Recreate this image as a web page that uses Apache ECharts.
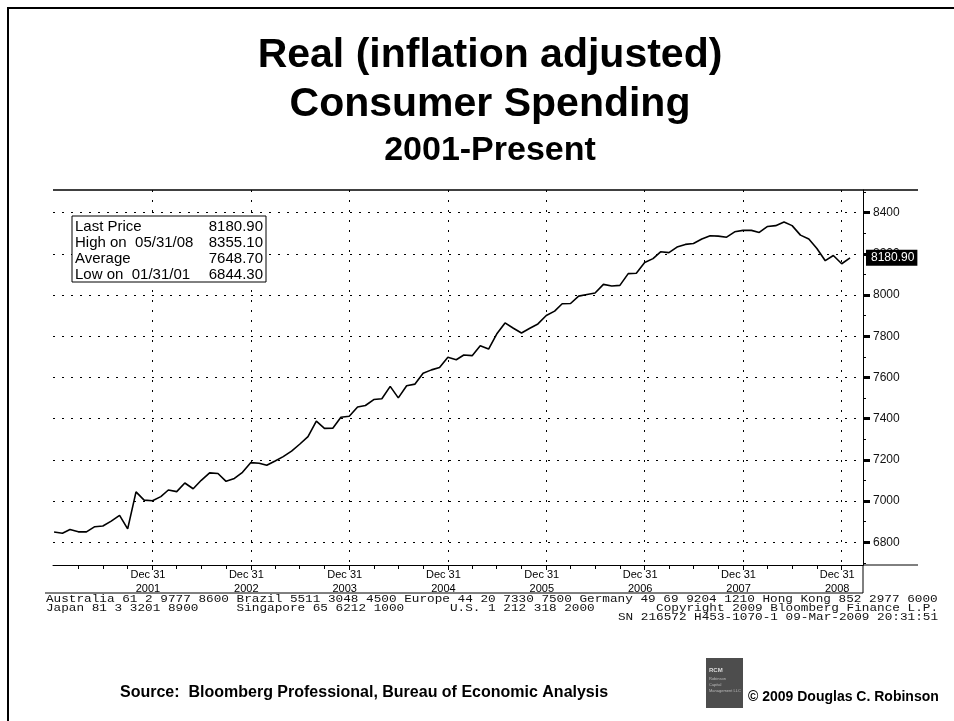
<!DOCTYPE html>
<html lang="en">
<head>
<meta charset="UTF-8" />
<title>Real (inflation adjusted) Consumer Spending</title>
<script src="https://cdn.jsdelivr.net/npm/echarts@6/dist/echarts.min.js"></script>
<style>
html, body { margin: 0; padding: 0; background: #fff; }
#main { width: 954px; height: 721px; }
</style>
</head>
<body>
<div id="main"></div>
<script type="text/javascript">
// real consumer spending, monthly (month end), Dec 2000 .. Jan 2009
var firstMonth = [2000, 12];
var spending = [
  6850, 6844.3, 6862, 6851, 6851, 6876, 6879, 6903, 6931, 6865, 7045, 7005,
  7002, 7022, 7054, 7046, 7088, 7060, 7101, 7137, 7134, 7096, 7110, 7140,
  7187, 7184, 7174, 7195, 7216, 7243, 7276, 7313, 7388, 7353, 7354, 7407,
  7412, 7457, 7464, 7493, 7497, 7557, 7501, 7560, 7568, 7621, 7637, 7649,
  7698, 7686, 7709, 7706, 7754, 7738, 7811, 7865, 7839, 7816, 7839, 7860,
  7901, 7922, 7958, 7959, 7995, 8003, 8010, 8052, 8044, 8047, 8104, 8106,
  8158, 8177, 8210, 8206, 8233, 8246, 8250, 8272, 8288, 8286, 8281, 8307,
  8314, 8314, 8304, 8333, 8337, 8355.1, 8337, 8291, 8272, 8226, 8167, 8192,
  8152, 8180.9
];

var yLabels = [6800, 7000, 7200, 7400, 7600, 7800, 8000, 8200, 8400];
var yMinor = [6700, 6900, 7100, 7300, 7500, 7700, 7900, 8100, 8300, 8500];
var yearEnds = ['2001-12-31', '2002-12-31', '2003-12-31', '2004-12-31',
                '2005-12-31', '2006-12-31', '2007-12-31', '2008-12-31'];
var quarterEnds = ['03-31', '06-30', '09-30'];

var statNames = ['Last Price', 'High on  05/31/08', 'Average', 'Low on  01/31/01'];
var statValues = ['8180.90', '8355.10', '7648.70', '6844.30'];

var titleLines = ['Real (inflation adjusted)', 'Consumer Spending', '2001-Present'];
var bbgLines = [
  'Australia 61 2 9777 8600 Brazil 5511 3048 4500 Europe 44 20 7330 7500 Germany 49 69 9204 1210 Hong Kong 852 2977 6000',
  'Japan 81 3 3201 8900     Singapore 65 6212 1000      U.S. 1 212 318 2000',
  'Copyright 2009 Bloomberg Finance L.P.',
  'SN 216572 H453-1070-1 09-Mar-2009 20:31:51'
];
var sourceText = 'Source:  Bloomberg Professional, Bureau of Economic Analysis';
var copyText = '\u00a9 2009 Douglas C. Robinson';

var xStart = '2000-12-27';
var xEnd = '2009-03-20';
var yMin = 6690, yMax = 8510;

var FONT = "'Liberation Sans', Arial, Helvetica, sans-serif";
var MONO = "'Liberation Mono', 'DejaVu Sans Mono', monospace";

// dates as UTC timestamps on a plain value axis
function ts(s) {
  var p = s.split('-');
  return Date.UTC(+p[0], +p[1] - 1, +p[2]);
}
function monthEnd(y, m) {
  return Date.UTC(y, m, 0);
}

var seriesData = [];
for (var i = 0; i < spending.length; i++) {
  var k = firstMonth[1] - 1 + i;
  seriesData.push([monthEnd(firstMonth[0] + Math.floor(k / 12), k % 12 + 1), spending[i]]);
}

var majorX = yearEnds.map(ts);
var minorX = [];
for (var yr = 2001; yr <= 2008; yr++) {
  for (var q = 0; q < quarterEnds.length; q++) minorX.push(ts(yr + '-' + quarterEnds[q]));
}

var lastPrice = spending[spending.length - 1];
var dotted = { color: '#000', width: 1, type: [2, 7] };

function txt(x, y, s, font, align, extra, color) {
  var el = {
    type: 'text', x: x, y: y, silent: true,
    style: { text: s, font: font, fill: color || '#000', align: align, textAlign: align,
             verticalAlign: 'middle', textVerticalAlign: 'middle' }
  };
  if (extra) for (var p in extra) el[p] = extra[p];
  return el;
}
function line(x1, y1, x2, y2, w) {
  return { type: 'line', silent: true, shape: { x1: x1, y1: y1, x2: x2, y2: y2 },
           style: { stroke: '#000', lineWidth: w || 1 } };
}

var graphics = [
  { type: 'polyline', silent: true, shape: { points: [[8, 740], [8, 8], [970, 8]] },
    style: { stroke: '#000', lineWidth: 2, fill: null } },
  txt(490, 56, titleLines[0], 'bold 41px ' + FONT, 'center'),
  txt(490, 105, titleLines[1], 'bold 41px ' + FONT, 'center'),
  txt(490, 151, titleLines[2], 'bold 34px ' + FONT, 'center'),
  // chart frame pieces outside the grid
  line(53, 190, 918, 190, 1.5),
  line(863, 565, 918, 565, 1),
  line(863, 565, 863, 593, 1),
  line(45, 593, 863, 593, 1),
  // stats box
  { type: 'rect', silent: true, shape: { x: 72, y: 216, width: 194, height: 66 },
    style: { fill: '#fff', stroke: '#000', lineWidth: 1 }, z: 10 }
];
for (var r = 0; r < statNames.length; r++) {
  graphics.push(txt(75, 226.5 + r * 16, statNames[r], '15px ' + FONT, 'left', { z: 11 }));
  graphics.push(txt(263, 226.5 + r * 16, statValues[r], '15px ' + FONT, 'right', { z: 11 }));
}
graphics.push(txt(46, 599, bbgLines[0], '10px ' + MONO, 'left', { scaleX: 1.27 }, '#111'));
graphics.push(txt(46, 608, bbgLines[1], '10px ' + MONO, 'left', { scaleX: 1.27 }, '#111'));
graphics.push(txt(938, 608, bbgLines[2], '10px ' + MONO, 'right', { scaleX: 1.27 }, '#111'));
graphics.push(txt(938, 617, bbgLines[3], '10px ' + MONO, 'right', { scaleX: 1.27 }, '#111'));
graphics.push(txt(120, 693, sourceText, 'bold 16px ' + FONT, 'left'));
graphics.push({ type: 'rect', silent: true, shape: { x: 706, y: 658, width: 37, height: 50 },
                style: { fill: '#4d4d4d' } });
graphics.push(txt(709, 670, 'RCM', 'bold 6px ' + FONT, 'left', null, '#ddd'));
graphics.push(txt(709, 679, 'Robinson', '4px ' + FONT, 'left', null, '#bbb'));
graphics.push(txt(709, 685, 'Capital', '4px ' + FONT, 'left', null, '#bbb'));
graphics.push(txt(709, 691, 'Management LLC', '4px ' + FONT, 'left', null, '#bbb'));
graphics.push(txt(748, 697, copyText, 'bold 14px ' + FONT, 'left'));

var myChart = echarts.init(document.getElementById('main'));
var option = {
  animation: false,
  backgroundColor: '#fff',
  grid: { left: 53, right: 91, top: 190, bottom: 156 },
  xAxis: [{
    type: 'value', position: 'bottom', min: ts(xStart), max: ts(xEnd),
    axisLine: { show: true, lineStyle: { color: '#000', width: 1 } },
    axisTick: { show: true, customValues: majorX, length: 5, lineStyle: { color: '#000' } },
    axisLabel: {
      customValues: majorX, margin: 3, padding: [0, 9, 0, 0],
      fontFamily: FONT, fontSize: 11, color: '#000', lineHeight: 14,
      formatter: function (v) { return 'Dec 31\n' + new Date(v).getUTCFullYear(); }
    },
    splitLine: { show: true, lineStyle: { color: '#000', width: 1, type: [2, 8] } }
  }, {
    type: 'value', position: 'bottom', min: ts(xStart), max: ts(xEnd),
    axisLine: { show: false },
    axisTick: { show: true, customValues: minorX, length: 4, lineStyle: { color: '#000' } },
    axisLabel: { show: false },
    splitLine: { show: false }
  }],
  yAxis: [{
    type: 'value', position: 'right', min: yMin, max: yMax,
    axisLine: { show: true, lineStyle: { color: '#000', width: 1 } },
    axisTick: { show: true, customValues: yLabels, length: 7, lineStyle: { color: '#000', width: 3 } },
    axisLabel: {
      customValues: yLabels, margin: 10, fontFamily: FONT, fontSize: 12, color: '#111',
      formatter: function (v) { return String(v); }
    },
    splitLine: { show: true, lineStyle: dotted }
  }, {
    type: 'value', position: 'right', min: yMin, max: yMax,
    axisLine: { show: false },
    axisTick: { show: true, customValues: yMinor, length: 3, lineStyle: { color: '#000' } },
    axisLabel: { show: false },
    splitLine: { show: false }
  }],
  series: [{
    type: 'line', xAxisIndex: 0, yAxisIndex: 0,
    data: seriesData, symbol: 'none', showSymbol: false,
    lineStyle: { color: '#000', width: 1.6 },
    markLine: {
      silent: true, symbol: ['none', 'none'],
      lineStyle: { color: 'rgba(0,0,0,0)', width: 1 },
      label: {
        show: true, position: 'end', distance: 3,
        formatter: lastPrice.toFixed(2),
        color: '#fff', backgroundColor: '#000',
        fontFamily: FONT, fontSize: 12, padding: [2, 3, 2, 5]
      },
      data: [{ yAxis: lastPrice }]
    }
  }],
  graphic: graphics
};
myChart.setOption(option);
</script>
</body>
</html>
